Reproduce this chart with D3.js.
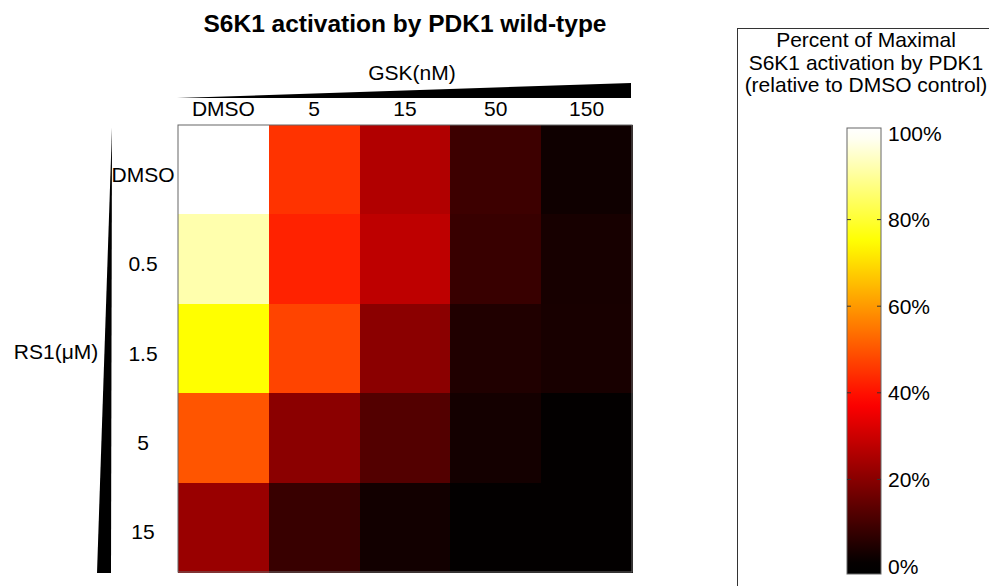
<!DOCTYPE html>
<html>
<head>
<meta charset="utf-8">
<script src="https://cdn.jsdelivr.net/npm/d3@7"></script>
<style>
  body { margin: 0; background: #fff; }
  text { font-family: "Liberation Sans", Arial, sans-serif; fill: #000; }
</style>
</head>
<body>
<div id="chart"></div>
<script>
// data (percent of maximal activation)
const gskDoses = ["DMSO", "5", "15", "50", "150"];
const rs1Doses = ["DMSO", "0.5", "1.5", "5", "15"];
const rowDMSO = [100, 45, 26, 9, 2.2];
const row05   = [92, 42.5, 28, 8.2, 3.4];
const row15   = [75, 47.5, 20.5, 4.7, 3.5];
const row5    = [50, 20.5, 12.2, 3, 0.5];
const row15uM = [22.5, 8.2, 2.6, 0.4, 0.4];
const legendTicks = [0, 20, 40, 60, 80, 100];
const legendTitle = ["Percent of Maximal", "S6K1 activation by PDK1", "(relative to DMSO control)"];

const allRows = [rowDMSO, row05, row15, row5, row15uM];

// matlab "hot" colormap
function hot(t) {
    t = Math.max(0, Math.min(1, t));
    let r = Math.min(1, t / 0.375);
    let g = Math.max(0, Math.min(1, (t - 0.375) / 0.375));
    let b = Math.max(0, Math.min(1, (t - 0.75) / 0.25));
    return d3.rgb(r * 255, g * 255, b * 255).toString();
}

const W = 989, H = 586;
const svg = d3.select("#chart").append("svg")
    .attr("width", W)
    .attr("height", H);

const x = d3.scaleBand().domain(gskDoses).range([178, 632]);
const y = d3.scaleBand().domain(rs1Doses).range([125, 572]);
const color = d3.scaleLinear().domain([0, 100]).range([0, 1]);

let cells = [];
allRows.forEach((vals, i) => {
    vals.forEach((v, j) => cells.push({row: rs1Doses[i], col: gskDoses[j], value: v}));
});

svg.selectAll("rect.cell")
    .data(cells)
    .enter()
    .append("rect")
    .attr("class", "cell")
    .attr("x", d => x(d.col))
    .attr("y", d => y(d.row))
    .attr("width", x.bandwidth() + 0.5)
    .attr("height", y.bandwidth() + 0.5)
    .attr("shape-rendering", "crispEdges")
    .style("fill", d => hot(color(d.value)));

svg.append("rect")
    .attr("x", x.range()[0])
    .attr("y", y.range()[0])
    .attr("width", x.range()[1] - x.range()[0])
    .attr("height", y.range()[1] - y.range()[0])
    .attr("fill", "none")
    .attr("stroke", "#666")
    .attr("stroke-width", 1);

// title
svg.append("text")
    .attr("x", 405)
    .attr("y", 32)
    .attr("text-anchor", "middle")
    .style("font-size", "24.5px")
    .style("font-weight", "bold")
    .text("S6K1 activation by PDK1 wild-type");

// column labels + GSK wedge
svg.selectAll("text.col")
    .data(gskDoses)
    .enter()
    .append("text")
    .attr("class", "col")
    .attr("x", d => x(d) + x.bandwidth() / 2)
    .attr("y", 116)
    .attr("text-anchor", "middle")
    .style("font-size", "21px")
    .text(d => d);

svg.append("text")
    .attr("x", 412)
    .attr("y", 80)
    .attr("text-anchor", "middle")
    .style("font-size", "21px")
    .text("GSK(nM)");

svg.append("path")
    .attr("d", d3.line()([[x.range()[0] - 1, 98], [x.range()[1] - 1, 83], [x.range()[1] - 1, 98]]) + "Z")
    .attr("fill", "#000");

// row labels + RS1 wedge
svg.selectAll("text.row")
    .data(rs1Doses)
    .enter()
    .append("text")
    .attr("class", "row")
    .attr("x", 143)
    .attr("y", d => y(d) + y.bandwidth() / 2 + 12)
    .attr("text-anchor", "middle")
    .style("font-size", "21px")
    .text(d => d);

svg.append("text")
    .attr("x", 56)
    .attr("y", 359)
    .attr("text-anchor", "middle")
    .style("font-size", "21px")
    .text("RS1(μM)");

svg.append("path")
    .attr("d", d3.line()([[112, 128], [111, y.range()[1] + 1], [97, y.range()[1] + 1]]) + "Z")
    .attr("fill", "#000");

// legend box
svg.append("rect")
    .attr("x", 737.5)
    .attr("y", 28.5)
    .attr("width", 300)
    .attr("height", 600)
    .attr("fill", "none")
    .attr("stroke", "#333")
    .attr("stroke-width", 1);

svg.selectAll("text.ltitle")
    .data(legendTitle)
    .enter()
    .append("text")
    .attr("class", "ltitle")
    .attr("x", 866)
    .attr("y", (d, i) => 47 + i * 22.5)
    .attr("text-anchor", "middle")
    .style("font-size", "21px")
    .text(d => d);

// colorbar
const cb = {x: 847, w: 34, top: 128, bottom: 574};
const cy = d3.scaleLinear().domain([0, 100]).range([566, 133]);

const defs = svg.append("defs");
const grad = defs.append("linearGradient")
    .attr("id", "hotgrad")
    .attr("x1", 0).attr("x2", 0)
    .attr("y1", 1).attr("y2", 0);
const v0 = cy.invert(cb.bottom), v1 = cy.invert(cb.top);
d3.range(0, 41).forEach(k => {
    let v = v0 + (v1 - v0) * k / 40;
    grad.append("stop")
        .attr("offset", (k / 40 * 100) + "%")
        .attr("stop-color", hot(color(v)));
});

svg.append("rect")
    .attr("x", cb.x)
    .attr("y", cb.top)
    .attr("width", cb.w)
    .attr("height", cb.bottom - cb.top)
    .attr("fill", "url(#hotgrad)")
    .attr("stroke", "#666")
    .attr("stroke-width", 1);

svg.selectAll("line.tickl")
    .data(legendTicks.slice(1, -1))
    .enter()
    .append("g")
    .each(function(d) {
        let g = d3.select(this);
        g.append("line")
            .attr("x1", cb.x).attr("x2", cb.x + 4)
            .attr("y1", cy(d)).attr("y2", cy(d))
            .attr("stroke", "#333");
        g.append("line")
            .attr("x1", cb.x + cb.w - 4).attr("x2", cb.x + cb.w)
            .attr("y1", cy(d)).attr("y2", cy(d))
            .attr("stroke", "#333");
    });

svg.selectAll("text.ltick")
    .data(legendTicks)
    .enter()
    .append("text")
    .attr("class", "ltick")
    .attr("x", 888)
    .attr("y", d => cy(d) + 7.5)
    .style("font-size", "21px")
    .text(d => d + "%");
</script>
</body>
</html>
